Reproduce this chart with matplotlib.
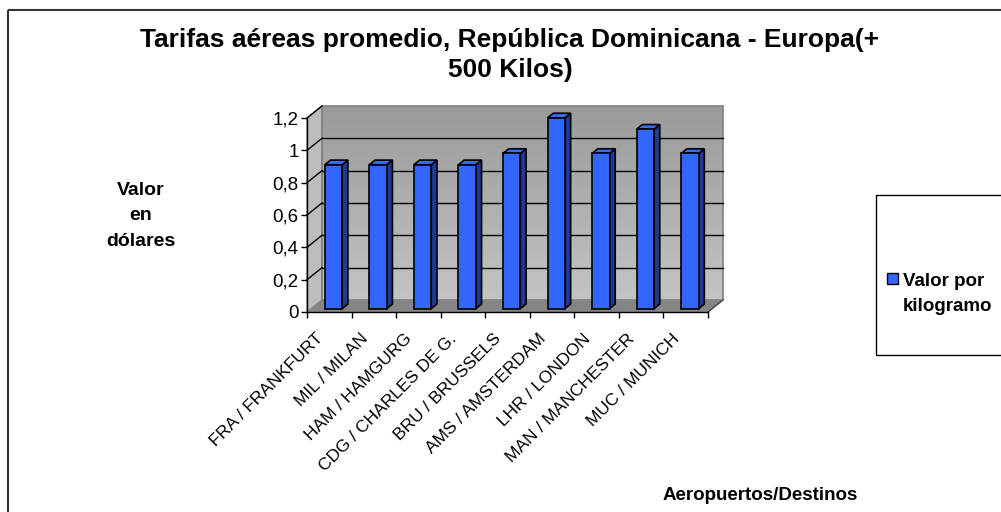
import numpy as np
import matplotlib
matplotlib.use('Agg')
import matplotlib.pyplot as plt
from matplotlib.patches import Polygon, Rectangle
from matplotlib.transforms import Affine2D, ScaledTranslation

plt.rcParams['font.family'] = ['Liberation Sans', 'DejaVu Sans']

destinos = ["FRA / FRANKFURT", "MIL / MILAN", "HAM / HAMGURG", "CDG / CHARLES DE G.",
            "BRU / BRUSSELS", "AMS / AMSTERDAM", "LHR / LONDON", "MAN / MANCHESTER",
            "MUC / MUNICH"]
valor_kg = [0.89, 0.89, 0.89, 0.89, 0.96, 1.18, 0.96, 1.11, 0.96]
y_ticks = [0, 0.2, 0.4, 0.6, 0.8, 1.0, 1.2]
y_ticklabels = ["0", "0,2", "0,4", "0,6", "0,8", "1", "1,2"]

W, H = 1001, 512
fig = plt.figure(figsize=(W / 100, H / 100), dpi=100)
# pixel coords, origin top-left
px = Affine2D().scale(1 / W, -1 / H).translate(0, 1) + fig.transFigure

# front plane of the 3d box
x0, x1, ytop, ybot = 307, 708, 118, 312
ax = fig.add_axes([x0 / W, 1 - ybot / H, (x1 - x0) / W, (ybot - ytop) / H])
n = len(destinos)
ymax = 1.2
ax.set_xlim(0, n)
ax.set_ylim(0, ymax)
ax.patch.set_visible(False)

sx = (x1 - x0) / n       # px per x unit
sy = (ybot - ytop) / ymax  # px per y unit
ddx, ddy = 15 / sx, 12 / sy  # depth of the box

# gradient back wall
grad = np.linspace(0, 1, 100).reshape(-1, 1)
ax.imshow(grad, cmap=matplotlib.colors.LinearSegmentedColormap.from_list('w', ['#c4c4c4', '#9a9a9a']),
          extent=[ddx, n + ddx, ddy, ymax + ddy], origin='lower', aspect='auto',
          clip_on=False, zorder=0)
ax.add_patch(Rectangle((ddx, ddy), n, ymax, fill=False, ec='#808080', lw=1.2, clip_on=False, zorder=1))
# left wall
ax.add_patch(Polygon([(0, 0), (ddx, ddy), (ddx, ymax + ddy), (0, ymax)], closed=True,
                     fc='#bdbdbd', ec='#808080', lw=1.0, clip_on=False, zorder=0.5))
# floor
ax.add_patch(Polygon([(0, 0), (n, 0), (n + ddx, ddy), (ddx, ddy)], closed=True,
                     fc='#858585', ec='none', clip_on=False, zorder=1))
ax.plot([n, n + ddx], [0, ddy], color='#404040', lw=1.0, clip_on=False, zorder=1)

# gridlines on walls
for t in y_ticks[1:-1]:
    ax.plot([ddx, n + ddx], [t + ddy, t + ddy], color='black', lw=1.0, clip_on=False, zorder=1)
for t in y_ticks[1:]:
    ax.plot([0, ddx], [t, t + ddy], color='black', lw=1.0, clip_on=False, zorder=1)
ax.set_xlim(0, n)
ax.set_ylim(0, ymax)

# bars
bw = 17.4 / sx
fdx, fdy = 4.2 / sx, 3.4 / sy
bdx, bdy = 5.7 / sx, 4.6 / sy
centers = np.arange(n) + 0.5
ax.bar(centers + fdx, valor_kg, width=bw, bottom=fdy, color='#3366ff',
       edgecolor='black', linewidth=1.2, zorder=3, clip_on=False)
for c, v in zip(centers, valor_kg):
    r = c + fdx + bw / 2
    l = c + fdx - bw / 2
    top = v + fdy
    ax.add_patch(Polygon([(r, fdy), (r + bdx, fdy + bdy), (r + bdx, top + bdy), (r, top)],
                         closed=True, fc='#1f3a96', ec='black', lw=1.2, zorder=2.9, clip_on=False))
    ax.add_patch(Polygon([(l, top), (r, top), (r + bdx, top + bdy), (l + bdx, top + bdy)],
                         closed=True, fc='#3a6cff', ec='black', lw=1.2, zorder=2.9, clip_on=False))

# axes
for s in ['top', 'right']:
    ax.spines[s].set_visible(False)
ax.spines['left'].set_linewidth(1.0)
ax.spines['bottom'].set_linewidth(1.0)
ax.set_yticks(y_ticks)
ax.set_yticklabels(y_ticklabels, fontsize=13.5)
ax.tick_params(axis='y', direction='out', length=4, width=1, pad=2)
ax.set_xticks(centers)
ax.set_xticks(np.arange(n + 1), minor=True)
ax.set_xticklabels(destinos, fontsize=12.5, rotation=45, ha='right', va='top',
                   rotation_mode='anchor')
ax.tick_params(axis='x', which='major', length=0, pad=0)
ax.tick_params(axis='x', which='minor', direction='out', length=4, width=1)
for lab in ax.get_xticklabels():
    lab.set_transform(lab.get_transform() + ScaledTranslation(-0.14, -0.19, fig.dpi_scale_trans))

# titles
fig.text(510, 55, "Tarifas aéreas promedio, República Dominicana - Europa(+\n500 Kilos)",
         transform=px, ha='center', va='center', fontsize=19, fontweight='bold', linespacing=1.32)
fig.text(141, 216, "Valor\nen\ndólares", transform=px, ha='center', va='center',
         fontsize=14, fontweight='bold', linespacing=1.65)
fig.text(858, 496, "Aeropuertos/Destinos", transform=px, ha='right', va='center',
         fontsize=13.5, fontweight='bold')

# legend box
fig.add_artist(Rectangle((876, 195), 140, 160, transform=px, fc='white', ec='black', lw=1.0))
fig.add_artist(Rectangle((887, 273), 11, 11, transform=px, fc='#3366ff', ec='black', lw=1.0))
fig.text(903, 294, "Valor por\nkilogramo", transform=px, ha='left', va='center',
         fontsize=13.5, fontweight='bold', linespacing=1.6)

# outer chart border
fig.add_artist(Rectangle((7.5, 9.5), 1010, 520, transform=px, fill=False, ec='#333333', lw=1.5))

fig.savefig('out.png', dpi=100)
